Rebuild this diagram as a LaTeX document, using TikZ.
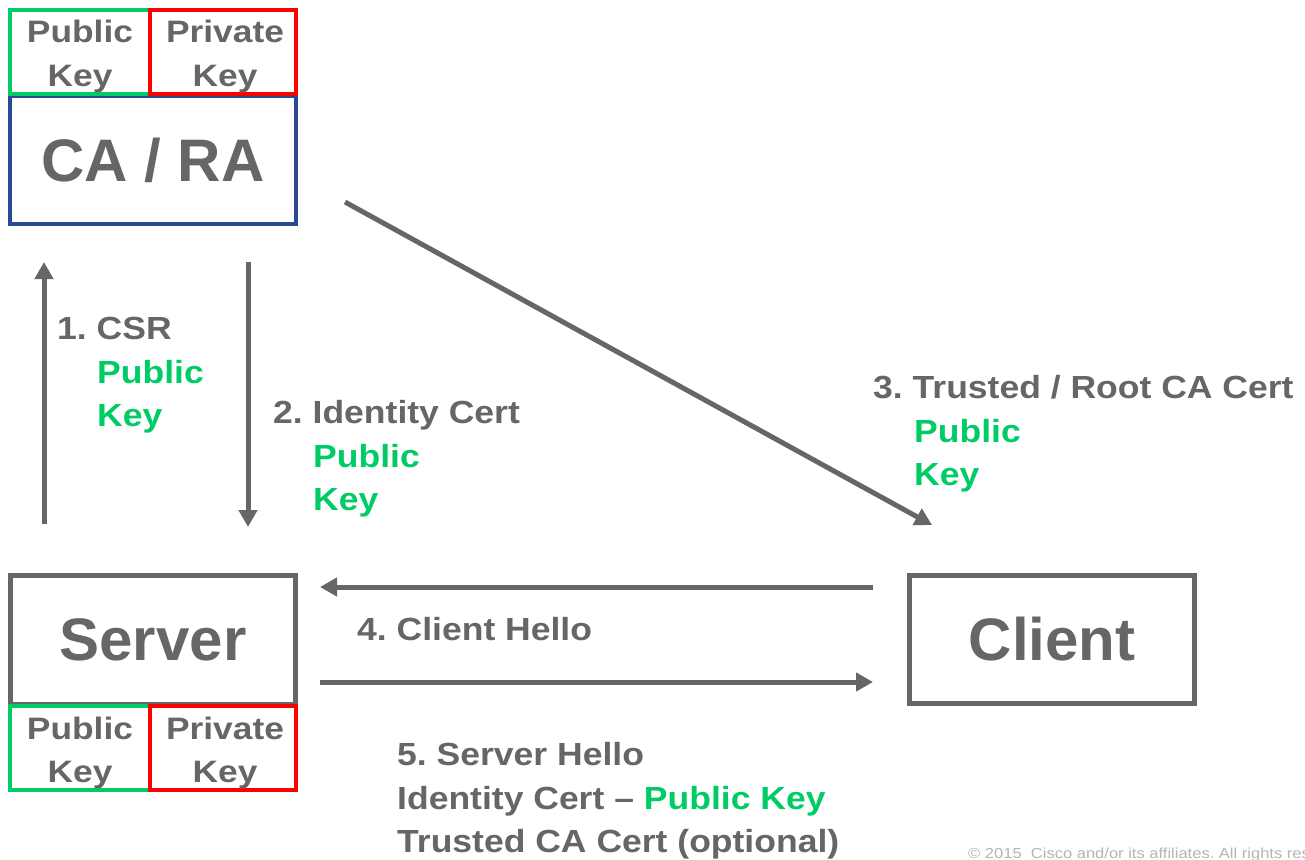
\documentclass[tikz,border=0pt]{standalone}
\usepackage{fontspec}
\setmainfont{Liberation Sans}
\newfontfamily\widesans{Liberation Sans}[FakeStretch=1.11]
\newfontfamily\keysans{Liberation Sans}[FakeStretch=1.14]
\newfontfamily\footsans{Liberation Sans}[FakeStretch=1.14]
\usetikzlibrary{arrows.meta}
\frenchspacing

\definecolor{txtgrey}{HTML}{666666}
\definecolor{keygreen}{HTML}{00CC66}
\definecolor{keyred}{HTML}{FF0000}
\definecolor{cablue}{HTML}{2B4A96}
\definecolor{notegrey}{HTML}{B4B4B4}

\begin{document}
\begin{tikzpicture}[x=1pt,y=-1pt,
  every node/.style={inner sep=0pt, text=txtgrey, font=\bfseries},
  box/.style={draw=txtgrey, line width=5pt, rectangle, minimum width=285pt, minimum height=129pt,
              font=\fontsize{60}{66}\selectfont\bfseries},
  keybox/.style={rectangle, line width=4.5pt, minimum width=140pt, minimum height=84pt},
  keytext/.style={anchor=base, font=\keysans\fontsize{31}{42}\selectfont\bfseries},
  flow/.style={draw=txtgrey, line width=5pt, -{Triangle[length=17pt,width=18pt]}},
  lbl/.style={anchor=base west, font=\widesans\fontsize{32}{44}\selectfont\bfseries},
  pk/.style={text=keygreen}
]
\useasboundingbox (0,0) rectangle (1305,859);
\fill[white] (0,0) rectangle (1305,859);

% CA / RA with its key pair
\node[box, draw=cablue, line width=4.5pt, minimum width=286pt, minimum height=128pt] (ca) at (153,160) {CA / RA};
\node[keybox, draw=keygreen] (capub) at (80,52) {};
\node[keybox, draw=keyred, minimum width=146pt] (capriv) at (223,52) {};
\node[keytext] (capubA) at (80,43) {Public};
\node[keytext] (capubB) at (80,86) {Key};
\node[keytext] (caprivA) at (225,43) {Private};
\node[keytext] (caprivB) at (225,86) {Key};

% Server with its key pair
\node[box] (server) at (153,640) {Server};
\node[keybox, draw=keygreen] (srvpub) at (80,748) {};
\node[keybox, draw=keyred, minimum width=146pt] (srvpriv) at (223,748) {};
\node[keytext] (srvpubA) at (80,739) {Public};
\node[keytext] (srvpubB) at (80,782) {Key};
\node[keytext] (srvprivA) at (225,739) {Private};
\node[keytext] (srvprivB) at (225,782) {Key};

% Client
\node[box, minimum height=128pt] (client) at (1052,639.5) {Client};

% arrow end points
\coordinate (csrfrom) at (44,524);
\coordinate (csrto) at (44,262);
\coordinate (idfrom) at (248,262);
\coordinate (idto) at (248,527);
\coordinate (rootfrom) at (345,202);
\coordinate (rootto) at (932,525);
\coordinate (chfrom) at (873,587);
\coordinate (chto) at (320,587);
\coordinate (shfrom) at (320,682);
\coordinate (shto) at (873,682);

\draw[flow] (csrfrom) -- (csrto);
\draw[flow] (idfrom) -- (idto);
\draw[flow] (rootfrom) -- (rootto);
\draw[flow] (chfrom) -- (chto);
\draw[flow] (shfrom) -- (shto);

% message labels
\node[lbl] (l1) at (57,339) {1. CSR};
\node[lbl, pk] (l1a) at (97,383) {Public};
\node[lbl, pk] (l1b) at (97,426) {Key};
\node[lbl] (l2) at (273,423) {2. Identity Cert};
\node[lbl, pk] (l2a) at (313,467) {Public};
\node[lbl, pk] (l2b) at (313,510) {Key};
\node[lbl] (l3) at (873,398) {3. Trusted / Root CA Cert};
\node[lbl, pk] (l3a) at (914,442) {Public};
\node[lbl, pk] (l3b) at (914,485) {Key};
\node[lbl] (l4) at (357,640) {4. Client Hello};
\node[lbl] (l5a) at (397,765) {5. Server Hello};
\node[lbl] (l5b) at (397,809) {Identity Cert – \textcolor{keygreen}{Public Key}};
\node[lbl] (l5c) at (397,852) {Trusted CA Cert (optional)};

% footer, running off the right edge of the page
\begin{scope}
\clip (0,0) rectangle (1305,859);
\node[anchor=base west, text=notegrey, font=\footsans\fontsize{14.5}{16}\selectfont\mdseries] (copy) at (968,858)
  {© 2015\ \ Cisco and/or its affiliates. All rights reserved.};
\end{scope}
\end{tikzpicture}
\end{document}
